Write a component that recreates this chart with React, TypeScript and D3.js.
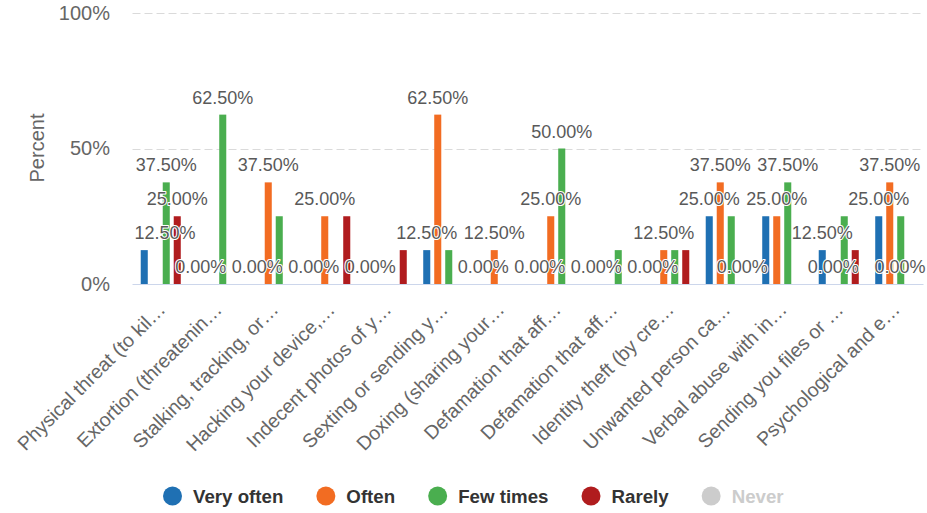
import { useEffect, useRef } from 'react';
import * as d3 from 'd3';

const categories = [
  'Physical threat (to kil…',
  'Extortion (threatenin…',
  'Stalking, tracking, or…',
  'Hacking your device,…',
  'Indecent photos of y…',
  'Sexting or sending y…',
  'Doxing (sharing your…',
  'Defamation that aff…',
  'Defamation that aff…',
  'Identity theft (by cre…',
  'Unwanted person ca…',
  'Verbal abuse with in…',
  'Sending you files or …',
  'Psychological and e…'
];

const veryOften = [12.5, 0, 0, 0, 0, 12.5, 0, 0, 0, 0, 25, 25, 12.5, 25];
const often = [0, 0, 37.5, 25, 0, 62.5, 12.5, 25, 0, 12.5, 37.5, 25, 0, 37.5];
const fewTimes = [37.5, 62.5, 25, 0, 0, 12.5, 0, 50, 12.5, 12.5, 25, 37.5, 25, 25];
const rarely = [25, 0, 0, 25, 12.5, 0, 0, 0, 0, 12.5, 0, 0, 12.5, 0];
const never = [0, 0, 0, 0, 0, 0, 0, 0, 0, 0, 0, 0, 0, 0];

const seriesNames = ['Very often', 'Often', 'Few times', 'Rarely', 'Never'];
const seriesColors = ['#1f70b3', '#f26c22', '#4aae4f', '#b01c1e', '#cccccc'];
const hiddenSeries = ['Never'];
const yTicks = [0, 50, 100];

const FONT = '"Liberation Sans", Arial, Helvetica, sans-serif';
const W = 927;
const H = 513;

export default function App() {
  const svgRef = useRef<SVGSVGElement>(null);

  useEffect(() => {
    if (!svgRef.current) return;
    const svg = d3.select(svgRef.current);
    svg.selectAll('*').remove();

    const plotLeft = 132.5;
    const plotRight = 923.5;

    const series = [veryOften, often, fewTimes, rarely, never].map((values, k) => ({
      name: seriesNames[k],
      color: seriesColors[k],
      values
    }));
    const visible = series.filter(s => !hiddenSeries.includes(s.name));

    const x = d3.scaleBand<number>()
      .domain(categories.map((_, i) => i))
      .range([plotLeft, plotRight]);

    const xs = d3.scaleBand<string>()
      .domain(visible.map(s => s.name))
      .range([-22, 22])
      .paddingInner(0.36)
      .paddingOuter(0.18);

    const y = d3.scaleLinear().domain([0, 100]).range([284, 13]);

    // grid lines (dashed), zero line solid
    svg.append('g')
      .selectAll('line')
      .data(yTicks.filter(t => t > 0))
      .enter()
      .append('line')
      .attr('x1', plotLeft)
      .attr('x2', plotRight)
      .attr('y1', d => Math.round(y(d)) + 0.5)
      .attr('y2', d => Math.round(y(d)) + 0.5)
      .attr('stroke', '#dadada')
      .attr('stroke-dasharray', '8,4');

    svg.append('line')
      .attr('x1', plotLeft)
      .attr('x2', plotRight)
      .attr('y1', Math.round(y(0)) + 0.5)
      .attr('y2', Math.round(y(0)) + 0.5)
      .attr('stroke', '#ccd6eb');

    // y axis
    const yAxis = d3.axisLeft(y)
      .tickValues(yTicks)
      .tickSize(0)
      .tickPadding(0)
      .tickFormat(d => `${d}%`);

    const yg = svg.append('g')
      .attr('transform', 'translate(110,0)')
      .call(yAxis);
    yg.select('.domain').remove();
    yg.selectAll('text')
      .attr('font-family', FONT)
      .attr('font-size', 20)
      .attr('fill', '#666');

    svg.append('text')
      .attr('transform', 'translate(37,148) rotate(-90)')
      .attr('text-anchor', 'middle')
      .attr('dy', '0.35em')
      .attr('font-family', FONT)
      .attr('font-size', 20)
      .attr('fill', '#666')
      .text('Percent');

    // x labels
    svg.append('g')
      .selectAll('text')
      .data(categories)
      .enter()
      .append('text')
      .attr('transform', (_, i) => `translate(${x(i)! + x.bandwidth() / 2 + 1},306) rotate(-45)`)
      .attr('text-anchor', 'end')
      .attr('dy', '0.35em')
      .attr('font-family', FONT)
      .attr('font-size', 19.5)
      .attr('fill', '#666')
      .text(d => d);

    // bars
    visible.forEach(s => {
      svg.append('g')
        .selectAll('rect')
        .data(s.values.map((v, i) => ({ v, i })).filter(d => d.v > 0))
        .enter()
        .append('rect')
        .attr('x', d => x(d.i)! + x.bandwidth() / 2 + xs(s.name)!)
        .attr('y', d => y(d.v))
        .attr('width', xs.bandwidth())
        .attr('height', d => y(0) - y(d.v))
        .attr('fill', s.color);
    });

    // data labels, overlapping ones hidden (taller bars win)
    const labelG = svg.append('g');
    const labs: { node: SVGTextElement; rank: number; left: number; right: number; top: number; bottom: number; k: number }[] = [];
    visible.forEach(s => {
      s.values.forEach((v, i) => {
        const cx = x(i)! + x.bandwidth() / 2 + xs(s.name)! + xs.bandwidth() / 2;
        const base = y(v) - 11;
        const t = labelG.append('text')
          .attr('y', base)
          .attr('font-family', FONT)
          .attr('font-size', 18)
          .attr('fill', '#595959')
          .attr('stroke', '#fff')
          .attr('stroke-width', 2)
          .attr('stroke-linejoin', 'round')
          .attr('paint-order', 'stroke')
          .text(`${v.toFixed(2)}%`);
        const node = t.node() as SVGTextElement;
        const w = node.getComputedTextLength();
        let left = cx - w / 2;
        if (left < plotLeft + 2) left = plotLeft + 2;
        if (left + w > plotRight + 2) left = plotRight + 2 - w;
        t.attr('x', left);
        labs.push({ node, rank: y(0) - y(v), left, right: left + w, top: base - 14, bottom: base + 4, k: labs.length });
      });
    });
    const shown: typeof labs = [];
    labs.slice()
      .sort((a, b) => b.rank - a.rank || a.k - b.k)
      .forEach(l => {
        const hit = shown.some(o => l.left < o.right && o.left < l.right && l.top < o.bottom && o.top < l.bottom);
        if (hit) l.node.remove();
        else shown.push(l);
      });

    // legend
    const legend = svg.append('g');
    let cx = 172.5;
    series.forEach(s => {
      const off = hiddenSeries.includes(s.name);
      legend.append('circle')
        .attr('cx', cx)
        .attr('cy', 496)
        .attr('r', 9.5)
        .attr('fill', off ? '#cccccc' : s.color);
      const t = legend.append('text')
        .attr('x', cx + 20.5)
        .attr('y', 496)
        .attr('dy', '0.35em')
        .attr('font-family', FONT)
        .attr('font-size', 18.7)
        .attr('font-weight', 'bold')
        .attr('fill', off ? '#cccccc' : '#333')
        .text(s.name);
      const w = (t.node() as SVGTextElement).getComputedTextLength();
      cx = cx + 20.5 + w + 42.5;
    });
  }, []);

  return (
    <svg
      ref={svgRef}
      width={W}
      height={H}
      style={{ position: 'absolute', left: 0, top: 0, background: '#fff' }}
    />
  );
}
